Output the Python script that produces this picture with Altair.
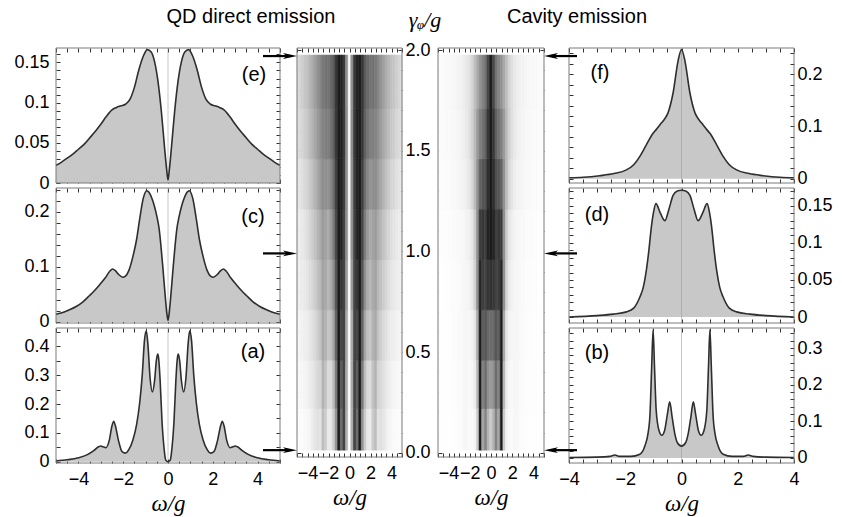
import json
import altair as alt
import pandas as pd

FONT = "Liberation Sans"
SERIF = "Liberation Serif"
LABEL_SIZE = 18
FRAME = "#7a7a7a"
FILL = "#c8c8c8"
LINE = "#2e2e2e"

# ---------------- spectra ----------------
# (e) QD direct emission, gamma_phi/g ~ 1.95
QD_E_X = [-5.0, -4.75, -4.5, -4.25, -4.0, -3.75, -3.5, -3.25, -3.0, -2.75, -2.5, -2.3, -2.1, -1.9, -1.7, -1.5,
          -1.3, -1.1, -0.92, -0.75, -0.6, -0.45, -0.3, -0.15, -0.05, 0.0, 0.05, 0.15, 0.3, 0.45, 0.6, 0.75,
          0.92, 1.1, 1.3, 1.5, 1.7, 1.9, 2.1, 2.3, 2.5, 2.75, 3.0, 3.25, 3.5, 3.75, 4.0, 4.25, 4.5, 4.75, 5.0]
QD_E_Y = [0.022, 0.026, 0.031, 0.036, 0.042, 0.048, 0.056, 0.064, 0.073, 0.083, 0.091, 0.094, 0.096, 0.098,
          0.104, 0.119, 0.141, 0.158, 0.166, 0.163, 0.151, 0.127, 0.09, 0.043, 0.014, 0.004, 0.014, 0.043,
          0.09, 0.127, 0.151, 0.163, 0.166, 0.158, 0.141, 0.119, 0.104, 0.098, 0.096, 0.094, 0.091, 0.083,
          0.073, 0.064, 0.056, 0.048, 0.042, 0.036, 0.031, 0.026, 0.022]

# (c) QD direct emission, gamma_phi/g ~ 1.0
QD_C_X = [-5.0, -4.7, -4.4, -4.1, -3.81, -3.5, -3.3, -3.06, -2.8, -2.6, -2.47, -2.35, -2.2, -2.02, -1.9, -1.75,
          -1.57, -1.4, -1.27, -1.1, -0.95, -0.8, -0.7, -0.6, -0.5, -0.4, -0.32, -0.22, -0.12, -0.05, 0.0,
          0.05, 0.12, 0.22, 0.32, 0.4, 0.5, 0.6, 0.7, 0.8, 0.95, 1.1, 1.27, 1.4, 1.57, 1.75, 1.9, 2.02, 2.2,
          2.35, 2.47, 2.6, 2.8, 3.06, 3.3, 3.5, 3.81, 4.1, 4.4, 4.7, 5.0]
QD_C_Y = [0.014, 0.017, 0.022, 0.028, 0.036, 0.048, 0.056, 0.067, 0.08, 0.092, 0.096, 0.093, 0.086, 0.081,
          0.083, 0.093, 0.118, 0.15, 0.185, 0.225, 0.238, 0.232, 0.222, 0.209, 0.192, 0.17, 0.14, 0.094,
          0.045, 0.015, 0.003, 0.015, 0.045, 0.094, 0.14, 0.17, 0.192, 0.209, 0.222, 0.232, 0.238, 0.225,
          0.185, 0.15, 0.118, 0.093, 0.083, 0.081, 0.086, 0.093, 0.096, 0.092, 0.08, 0.067, 0.056, 0.048,
          0.036, 0.028, 0.022, 0.017, 0.014]

# (a) QD direct emission, gamma_phi/g ~ 0.05
QD_A_X = [-5.0, -4.5, -4.0, -3.6, -3.3, -3.1, -3.0, -2.9, -2.77, -2.62, -2.5, -2.42, -2.35, -2.2, -2.05, -1.9,
          -1.75, -1.57, -1.4, -1.27, -1.15, -1.05, -0.97, -0.9, -0.8, -0.7, -0.6, -0.52, -0.46, -0.42, -0.35,
          -0.27, -0.18, -0.1, 0.0, 0.1, 0.18, 0.27, 0.35, 0.42, 0.46, 0.52, 0.6, 0.7, 0.8, 0.9, 0.97, 1.05,
          1.15, 1.27, 1.4, 1.57, 1.75, 1.9, 2.05, 2.2, 2.35, 2.42, 2.5, 2.62, 2.77, 2.9, 3.0, 3.1, 3.3, 3.6,
          4.0, 4.5, 5.0]
QD_A_Y = [0.003, 0.007, 0.014, 0.025, 0.04, 0.052, 0.055, 0.052, 0.049, 0.075, 0.125, 0.14, 0.125, 0.07,
          0.035, 0.03, 0.042, 0.075, 0.13, 0.2, 0.3, 0.42, 0.453, 0.41, 0.29, 0.242, 0.28, 0.35, 0.373, 0.36,
          0.28, 0.144, 0.05, 0.006, 0.0, 0.006, 0.05, 0.144, 0.28, 0.36, 0.373, 0.35, 0.28, 0.242, 0.29,
          0.41, 0.453, 0.42, 0.3, 0.2, 0.13, 0.075, 0.042, 0.03, 0.035, 0.07, 0.125, 0.14, 0.125, 0.075,
          0.049, 0.052, 0.055, 0.052, 0.04, 0.025, 0.014, 0.007, 0.003]

# (f) cavity emission, gamma_phi/g ~ 1.95
CAV_F_X = [-4.0, -3.5, -2.91, -2.4, -1.96, -1.7, -1.48, -1.25, -1.01, -0.9, -0.77, -0.62, -0.48, -0.3, -0.12,
           0.0, 0.12, 0.3, 0.48, 0.62, 0.77, 0.9, 1.01, 1.25, 1.48, 1.7, 1.96, 2.4, 2.91, 3.5, 4.0]
CAV_F_Y = [0.002, 0.003, 0.006, 0.01, 0.017, 0.027, 0.043, 0.065, 0.087, 0.094, 0.103, 0.113, 0.126, 0.164,
           0.226, 0.247, 0.226, 0.164, 0.126, 0.113, 0.103, 0.094, 0.087, 0.065, 0.043, 0.027, 0.017, 0.01,
           0.006, 0.003, 0.002]

# (d) cavity emission, gamma_phi/g ~ 1.0
CAV_D_X = [-4.0, -3.0, -2.43, -1.96, -1.7, -1.48, -1.36, -1.25, -1.16, -1.07, -1.0, -0.91, -0.75, -0.59, -0.45,
           -0.3, -0.15, 0.0, 0.15, 0.3, 0.45, 0.59, 0.75, 0.91, 1.0, 1.07, 1.16, 1.25, 1.36, 1.48, 1.7, 1.96,
           2.43, 3.0, 4.0]
CAV_D_Y = [0.0, 0.002, 0.004, 0.007, 0.012, 0.027, 0.04, 0.063, 0.09, 0.122, 0.14, 0.153, 0.14, 0.13, 0.145,
           0.164, 0.17, 0.171, 0.17, 0.164, 0.145, 0.13, 0.14, 0.153, 0.14, 0.122, 0.09, 0.063, 0.04, 0.027,
           0.012, 0.007, 0.004, 0.002, 0.0]

# (b) cavity emission, gamma_phi/g ~ 0.05
CAV_B_X = [-4.0, -3.0, -2.55, -2.37, -2.2, -1.8, -1.48, -1.3, -1.19, -1.12, -1.06, -1.01, -0.96, -0.9, -0.8,
           -0.7, -0.6, -0.5, -0.42, -0.33, -0.24, -0.15, 0.0, 0.15, 0.24, 0.33, 0.42, 0.5, 0.6, 0.7, 0.8, 0.9,
           0.96, 1.01, 1.06, 1.12, 1.19, 1.3, 1.48, 1.8, 2.2, 2.37, 2.55, 3.0, 4.0]
CAV_B_Y = [0.001, 0.002, 0.004, 0.008, 0.004, 0.004, 0.01, 0.033, 0.067, 0.12, 0.25, 0.35, 0.25, 0.13, 0.075,
           0.062, 0.075, 0.12, 0.153, 0.11, 0.067, 0.042, 0.032, 0.042, 0.067, 0.11, 0.153, 0.12, 0.075,
           0.062, 0.075, 0.13, 0.25, 0.35, 0.25, 0.12, 0.067, 0.033, 0.01, 0.004, 0.004, 0.008, 0.004, 0.002,
           0.001]

# ---------------- density maps (normalised grey level) ----------------
HEAT_X = [-5.0, -4.75, -4.5, -4.25, -4.0, -3.75, -3.5, -3.25, -3.0, -2.75, -2.5, -2.25, -2.0, -1.75, -1.5,
          -1.25, -1.0, -0.75, -0.5, -0.25, 0.0, 0.25, 0.5, 0.75, 1.0, 1.25, 1.5, 1.75, 2.0, 2.25, 2.5, 2.75,
          3.0, 3.25, 3.5, 3.75, 4.0, 4.25, 4.5, 4.75, 5.0]
GAMMA_EDGES = [0.013, 0.22, 0.46, 0.71, 0.96, 1.21, 1.46, 1.71, 1.975]

QD_ROWS = [
    [0.01, 0.01, 0.015, 0.02, 0.03, 0.04, 0.07, 0.1, 0.12, 0.11, 0.26, 0.2, 0.08, 0.09, 0.2, 0.44, 1.0, 0.6, 0.8, 0.32,
     0.0, 0.32, 0.8, 0.6, 1.0, 0.44, 0.2, 0.09, 0.08, 0.2, 0.26, 0.11, 0.12, 0.1, 0.07, 0.04, 0.03, 0.02, 0.015, 0.01, 0.01],
    [0.02, 0.025, 0.03, 0.04, 0.05, 0.07, 0.09, 0.12, 0.15, 0.17, 0.3, 0.24, 0.14, 0.15, 0.26, 0.55, 1.0, 0.68, 0.8, 0.33,
     0.01, 0.33, 0.8, 0.68, 1.0, 0.55, 0.26, 0.15, 0.14, 0.24, 0.3, 0.17, 0.15, 0.12, 0.09, 0.07, 0.05, 0.04, 0.03, 0.025, 0.02],
    [0.03, 0.04, 0.05, 0.06, 0.07, 0.09, 0.12, 0.15, 0.19, 0.24, 0.34, 0.3, 0.23, 0.25, 0.36, 0.65, 1.0, 0.78, 0.8, 0.34,
     0.02, 0.34, 0.8, 0.78, 1.0, 0.65, 0.36, 0.25, 0.23, 0.3, 0.34, 0.24, 0.19, 0.15, 0.12, 0.09, 0.07, 0.06, 0.05, 0.04, 0.03],
    [0.05, 0.06, 0.07, 0.08, 0.1, 0.13, 0.16, 0.2, 0.24, 0.29, 0.37, 0.34, 0.29, 0.33, 0.45, 0.72, 1.0, 0.87, 0.8, 0.4,
     0.02, 0.4, 0.8, 0.87, 1.0, 0.72, 0.45, 0.33, 0.29, 0.34, 0.37, 0.29, 0.24, 0.2, 0.16, 0.13, 0.1, 0.08, 0.07, 0.06, 0.05],
    [0.06, 0.07, 0.085, 0.1, 0.13, 0.16, 0.2, 0.24, 0.29, 0.34, 0.4, 0.37, 0.34, 0.4, 0.53, 0.78, 1.0, 0.95, 0.8, 0.44,
     0.03, 0.44, 0.8, 0.95, 1.0, 0.78, 0.53, 0.4, 0.34, 0.37, 0.4, 0.34, 0.29, 0.24, 0.2, 0.16, 0.13, 0.1, 0.085, 0.07, 0.06],
    [0.09, 0.1, 0.12, 0.15, 0.17, 0.21, 0.25, 0.3, 0.35, 0.41, 0.46, 0.45, 0.44, 0.49, 0.6, 0.82, 1.0, 0.97, 0.82, 0.45,
     0.03, 0.45, 0.82, 0.97, 1.0, 0.82, 0.6, 0.49, 0.44, 0.45, 0.46, 0.41, 0.35, 0.3, 0.25, 0.21, 0.17, 0.15, 0.12, 0.1, 0.09],
    [0.12, 0.14, 0.16, 0.19, 0.22, 0.26, 0.3, 0.35, 0.4, 0.46, 0.5, 0.52, 0.53, 0.57, 0.66, 0.86, 0.99, 0.98, 0.84, 0.46,
     0.03, 0.46, 0.84, 0.98, 0.99, 0.86, 0.66, 0.57, 0.53, 0.52, 0.5, 0.46, 0.4, 0.35, 0.3, 0.26, 0.22, 0.19, 0.16, 0.14, 0.12],
    [0.13, 0.16, 0.19, 0.22, 0.25, 0.29, 0.33, 0.39, 0.44, 0.5, 0.55, 0.57, 0.58, 0.62, 0.69, 0.87, 0.99, 0.96, 0.84, 0.45,
     0.03, 0.45, 0.84, 0.96, 0.99, 0.87, 0.69, 0.62, 0.58, 0.57, 0.55, 0.5, 0.44, 0.39, 0.33, 0.29, 0.25, 0.22, 0.19, 0.16, 0.13],
]

CAV_ROWS = [
    [0.002, 0.002, 0.003, 0.003, 0.004, 0.005, 0.006, 0.008, 0.01, 0.015, 0.035, 0.03, 0.02, 0.02, 0.04, 0.2, 1.0, 0.35, 0.5, 0.3,
     0.2, 0.3, 0.5, 0.35, 1.0, 0.2, 0.04, 0.02, 0.02, 0.03, 0.035, 0.015, 0.01, 0.008, 0.006, 0.005, 0.004, 0.003, 0.003, 0.002, 0.002],
    [0.002, 0.003, 0.003, 0.004, 0.005, 0.006, 0.008, 0.01, 0.015, 0.02, 0.035, 0.035, 0.025, 0.035, 0.07, 0.28, 1.0, 0.5, 0.6, 0.45,
     0.4, 0.45, 0.6, 0.5, 1.0, 0.28, 0.07, 0.035, 0.025, 0.035, 0.035, 0.02, 0.015, 0.01, 0.008, 0.006, 0.005, 0.004, 0.003, 0.003, 0.002],
    [0.003, 0.003, 0.004, 0.005, 0.006, 0.008, 0.01, 0.013, 0.018, 0.025, 0.035, 0.035, 0.035, 0.05, 0.1, 0.35, 1.0, 0.66, 0.7, 0.62,
     0.6, 0.62, 0.7, 0.66, 1.0, 0.35, 0.1, 0.05, 0.035, 0.035, 0.035, 0.025, 0.018, 0.013, 0.01, 0.008, 0.006, 0.005, 0.004, 0.003, 0.003],
    [0.004, 0.004, 0.005, 0.006, 0.008, 0.01, 0.012, 0.015, 0.02, 0.028, 0.035, 0.04, 0.05, 0.08, 0.17, 0.45, 0.95, 0.82, 0.8, 0.86,
     0.88, 0.86, 0.8, 0.82, 0.95, 0.45, 0.17, 0.08, 0.05, 0.04, 0.035, 0.028, 0.02, 0.015, 0.012, 0.01, 0.008, 0.006, 0.005, 0.004, 0.004],
    [0.005, 0.006, 0.007, 0.008, 0.01, 0.012, 0.015, 0.018, 0.022, 0.028, 0.035, 0.045, 0.06, 0.1, 0.2, 0.45, 0.84, 0.85, 0.82, 0.96,
     1.0, 0.96, 0.82, 0.85, 0.84, 0.45, 0.2, 0.1, 0.06, 0.045, 0.035, 0.028, 0.022, 0.018, 0.015, 0.012, 0.01, 0.008, 0.007, 0.006, 0.005],
    [0.009, 0.01, 0.012, 0.014, 0.016, 0.019, 0.023, 0.028, 0.034, 0.042, 0.055, 0.07, 0.1, 0.16, 0.26, 0.44, 0.65, 0.7, 0.74, 0.9,
     1.0, 0.9, 0.74, 0.7, 0.65, 0.44, 0.26, 0.16, 0.1, 0.07, 0.055, 0.042, 0.034, 0.028, 0.023, 0.019, 0.016, 0.014, 0.012, 0.01, 0.009],
    [0.012, 0.014, 0.016, 0.018, 0.02, 0.024, 0.028, 0.033, 0.04, 0.05, 0.065, 0.085, 0.12, 0.18, 0.27, 0.4, 0.52, 0.58, 0.66, 0.85,
     1.0, 0.85, 0.66, 0.58, 0.52, 0.4, 0.27, 0.18, 0.12, 0.085, 0.065, 0.05, 0.04, 0.033, 0.028, 0.024, 0.02, 0.018, 0.016, 0.014, 0.012],
    [0.014, 0.016, 0.018, 0.02, 0.023, 0.027, 0.032, 0.038, 0.045, 0.055, 0.07, 0.09, 0.12, 0.17, 0.25, 0.34, 0.44, 0.5, 0.58, 0.78,
     1.0, 0.78, 0.58, 0.5, 0.44, 0.34, 0.25, 0.17, 0.12, 0.09, 0.07, 0.055, 0.045, 0.038, 0.032, 0.027, 0.023, 0.02, 0.018, 0.016, 0.014],
]

ARROW_GAMMA = [1.97, 0.99, 0.013]

# ---------------- ticks and labels ----------------
X_TICKS_WIDE = [-5.0, -4.5, -4.0, -3.5, -3.0, -2.5, -2.0, -1.5, -1.0, -0.5, 0.0, 0.5, 1.0, 1.5, 2.0, 2.5, 3.0,
                3.5, 4.0, 4.5, 5.0]
X_TICKS_NARROW = [-4.0, -3.5, -3.0, -2.5, -2.0, -1.5, -1.0, -0.5, 0.0, 0.5, 1.0, 1.5, 2.0, 2.5, 3.0, 3.5, 4.0]
X_LABELS = [-4.0, -2.0, 0.0, 2.0, 4.0]
GAMMA_TICKS = [0.0, 0.1, 0.2, 0.3, 0.4, 0.5, 0.6, 0.7, 0.8, 0.9, 1.0, 1.1, 1.2, 1.3, 1.4, 1.5, 1.6, 1.7, 1.8,
               1.9, 2.0]
GAMMA_LABELS = [0.0, 0.5, 1.0, 1.5, 2.0]

E_TICKS = [0.0, 0.01, 0.02, 0.03, 0.04, 0.05, 0.06, 0.07, 0.08, 0.09, 0.1, 0.11, 0.12, 0.13, 0.14, 0.15, 0.16]
E_LABELS = [0.0, 0.05, 0.1, 0.15]
C_TICKS = [0.0, 0.02, 0.04, 0.06, 0.08, 0.1, 0.12, 0.14, 0.16, 0.18, 0.2, 0.22, 0.24]
C_LABELS = [0.0, 0.1, 0.2]
A_TICKS = [0.0, 0.05, 0.1, 0.15, 0.2, 0.25, 0.3, 0.35, 0.4, 0.45]
A_LABELS = [0.0, 0.1, 0.2, 0.3, 0.4]
F_TICKS = [0.0, 0.02, 0.04, 0.06, 0.08, 0.1, 0.12, 0.14, 0.16, 0.18, 0.2, 0.22, 0.24]
F_LABELS = [0.0, 0.1, 0.2]
D_TICKS = [0.0, 0.01, 0.02, 0.03, 0.04, 0.05, 0.06, 0.07, 0.08, 0.09, 0.1, 0.11, 0.12, 0.13, 0.14, 0.15, 0.16, 0.17]
D_LABELS = [0.0, 0.05, 0.1, 0.15]
B_TICKS = [0.0, 0.02, 0.04, 0.06, 0.08, 0.1, 0.12, 0.14, 0.16, 0.18, 0.2, 0.22, 0.24, 0.26, 0.28, 0.3, 0.32, 0.34]
B_LABELS = [0.0, 0.1, 0.2, 0.3]

# ---------------- layout (pixel boxes inside one 738 x 415 canvas) ----------------
W, H = 738, 415
BOX_E, BOX_C, BOX_A = (0, 224, 0, 135), (0, 224, 140, 275), (0, 224, 280, 415)
BOX_F, BOX_D, BOX_B = (513, 738, 0, 135), (513, 738, 140, 275), (513, 738, 280, 415)
BOX_H1, BOX_H2 = (241, 346, 0, 409), (382, 488, 0, 409)


def tick_axis(orient, box, values, shown=None, fmt="~g", title=None, pad=7, tpad=4):
    x0, x1, y0, y1 = box
    off = {"bottom": y1 - H - 4, "top": -y0 - 4, "left": -x0 - 4, "right": x1 - W - 4}[orient]
    kw = dict(orient=orient, values=values, offset=off, tickSize=4, tickColor="#333333", tickWidth=1,
              domain=False, grid=False, title=title, labelOverlap=False, labelFlush=False, labelBound=False,
              minExtent=0, maxExtent=200)
    if shown is None:
        kw["labels"] = False
    else:
        kw.update(labelExpr=f"indexof({json.dumps(shown)}, datum.value) >= 0 ? format(datum.value, '{fmt}') : ''",
                  labelFont=FONT, labelFontSize=LABEL_SIZE, labelColor="black", labelPadding=pad)
    if title is not None:
        kw.update(titleFont=SERIF, titleFontSize=23, titleFontStyle="italic", titleFontWeight="normal",
                  titleColor="black", titlePadding=tpad)
    return alt.Axis(**kw)


def text_layer(text, px, py, size=20, font=FONT, style="normal", baseline="middle"):
    return alt.Chart(pd.DataFrame({"t": [text]})).mark_text(
        font=font, fontSize=size, fontStyle=style, align="center", baseline=baseline, color="black"
    ).encode(text="t:N", x=alt.value(px), y=alt.value(py))


def frame_layer(xdom, ydom):
    return alt.Chart(pd.DataFrame({"k": [0]})).mark_rect(fillOpacity=0, stroke=FRAME, strokeWidth=1).encode(
        x=alt.XDatum(datum=xdom[0], axis=None), x2=alt.X2Datum(datum=xdom[1]),
        y=alt.YDatum(datum=ydom[0], axis=None), y2=alt.Y2Datum(datum=ydom[1]))


def spectrum(xs, ys, xdom, ydom, box, xticks, yticks, ylabels, label, lpos, right, bottom):
    x0, x1, y0, y1 = box
    df = pd.DataFrame({"w": xs, "s": ys})
    xsc = alt.Scale(domain=xdom, range=[x0, x1], nice=False, zero=False)
    ysc = alt.Scale(domain=ydom, range=[y1, y0], nice=False, zero=False)
    lab_side, tick_side = ("right", "left") if right else ("left", "right")
    xax = tick_axis("bottom", box, xticks, X_LABELS if bottom else None, fmt="d",
                    title="ω/g" if bottom else None)
    yax = tick_axis(lab_side, box, yticks, ylabels, pad=3 if right else 7)
    area = alt.Chart(df).mark_area(color=FILL, interpolate="monotone").encode(
        x=alt.X("w:Q", scale=xsc, axis=xax), y=alt.Y("s:Q", scale=ysc, axis=yax))
    zero = alt.Chart(pd.DataFrame({"w": [0.0]})).mark_rule(color="#999999", opacity=0.55, strokeWidth=1).encode(
        x=alt.X("w:Q", scale=xsc, axis=tick_axis("top", box, xticks)),
        y=alt.YDatum(datum=ydom[0], axis=None), y2=alt.Y2Datum(datum=ydom[1]))
    line = alt.Chart(df).mark_line(color=LINE, strokeWidth=1.6, interpolate="monotone").encode(
        x=alt.X("w:Q", scale=xsc, axis=None), y=alt.Y("s:Q", scale=ysc, axis=tick_axis(tick_side, box, yticks)))
    return alt.layer(area, zero, line, frame_layer(xdom, ydom), text_layer(label, lpos[0], lpos[1])
                     ).resolve_axis(x="independent", y="independent")


def heatmap(rows, box, labels_right, arrows_left):
    x0, x1, y0, y1 = box
    half = (HEAT_X[1] - HEAT_X[0]) / 2
    recs = []
    for i, row in enumerate(rows):
        for j, v in enumerate(row):
            recs.append({"x": HEAT_X[j] - half, "x2": HEAT_X[j] + half,
                         "g": GAMMA_EDGES[i], "g2": GAMMA_EDGES[i + 1], "v": v})
    df = pd.DataFrame(recs)
    xdom, ydom = [-5.0, 5.0], [-0.021, 2.01]
    xsc = alt.Scale(domain=xdom, range=[x0, x1], nice=False, zero=False, clamp=True)
    ysc = alt.Scale(domain=ydom, range=[y1, y0], nice=False, zero=False)
    csc = alt.Scale(domain=[0, 1], range=["#ffffff", "#1c1c1c"], clamp=True)
    if labels_right:
        yax = tick_axis("right", box, GAMMA_TICKS, GAMMA_LABELS, fmt=".1f", pad=3)
        yother = tick_axis("left", box, GAMMA_TICKS)
    else:
        yax = tick_axis("left", box, GAMMA_TICKS)
        yother = tick_axis("right", box, GAMMA_TICKS)
    rect = alt.Chart(df).mark_rect(strokeWidth=0.6).encode(
        x=alt.X("x:Q", scale=xsc, axis=tick_axis("bottom", box, X_TICKS_WIDE, X_LABELS, fmt="d", title="ω/g")),
        x2="x2:Q",
        y=alt.Y("g:Q", scale=ysc, axis=yax),
        y2="g2:Q",
        color=alt.Color("v:Q", scale=csc, legend=None),
        stroke=alt.Stroke("v:Q", scale=csc, legend=None),
    )
    ghost = alt.Chart(df).mark_rect(opacity=0).encode(
        x=alt.X("x:Q", scale=xsc, axis=tick_axis("top", box, X_TICKS_WIDE)), x2="x2:Q",
        y=alt.Y("g:Q", scale=ysc, axis=yother), y2="g2:Q")
    adf = pd.DataFrame({"g": ARROW_GAMMA})
    if arrows_left:
        xa, xb, xh = x0 - 34, x0 - 8, x0 - 7
        head = "M-1,-0.42L1,0L-1,0.42L-0.5,0Z"
    else:
        xa, xb, xh = x1 + 33, x1 + 8, x1 + 7
        head = "M1,-0.42L-1,0L1,0.42L0.5,0Z"
    shaft = alt.Chart(adf).mark_rule(color="black", strokeWidth=2.2).encode(
        x=alt.value(xa), x2=alt.value(xb), y=alt.Y("g:Q", scale=ysc, axis=None))
    tip = alt.Chart(adf).mark_point(shape=head, filled=True, size=196, color="black", opacity=1,
                                    strokeWidth=0).encode(x=alt.value(xh), y=alt.Y("g:Q", scale=ysc, axis=None))
    return alt.layer(rect, ghost, frame_layer(xdom, ydom), shaft, tip).resolve_axis(x="independent", y="independent")


panels = [
    spectrum(QD_E_X, QD_E_Y, [-5, 5], [0.0, 0.168], BOX_E, X_TICKS_WIDE, E_TICKS, E_LABELS, "(e)", (198, 27),
             False, False),
    spectrum(QD_C_X, QD_C_Y, [-5, 5], [-0.002, 0.243], BOX_C, X_TICKS_WIDE, C_TICKS, C_LABELS, "(c)", (197, 169),
             False, False),
    spectrum(QD_A_X, QD_A_Y, [-5, 5], [-0.004, 0.463], BOX_A, X_TICKS_WIDE, A_TICKS, A_LABELS, "(a)", (197, 304),
             False, True),
    spectrum(CAV_F_X, CAV_F_Y, [-4, 4], [-0.008, 0.25], BOX_F, X_TICKS_NARROW, F_TICKS, F_LABELS, "(f)", (544, 25),
             True, False),
    spectrum(CAV_D_X, CAV_D_Y, [-4, 4], [-0.008, 0.174], BOX_D, X_TICKS_NARROW, D_TICKS, D_LABELS, "(d)", (541, 167),
             True, False),
    spectrum(CAV_B_X, CAV_B_Y, [-4, 4], [-0.014, 0.355], BOX_B, X_TICKS_NARROW, B_TICKS, B_LABELS, "(b)", (541, 305),
             True, True),
    heatmap(QD_ROWS, BOX_H1, True, True),
    heatmap(CAV_ROWS, BOX_H2, False, False),
    text_layer("QD direct emission", 195, -25, size=20, baseline="alphabetic"),
    text_layer("Cavity emission", 521, -25, size=20, baseline="alphabetic"),
    text_layer("γᵩ/g", 369, -21, size=22, font=SERIF, style="italic", baseline="alphabetic"),
]

chart = alt.layer(*panels).resolve_scale(
    x="independent", y="independent", color="independent", stroke="independent"
).resolve_axis(x="independent", y="independent").properties(
    width=W, height=H,
    autosize=alt.AutoSizeParams(type="none"),
    padding={"left": 56, "top": 48, "right": 48, "bottom": 54},
).configure_view(strokeWidth=0)

chart.save("out.html", embed_options={"renderer": "svg", "actions": False})
